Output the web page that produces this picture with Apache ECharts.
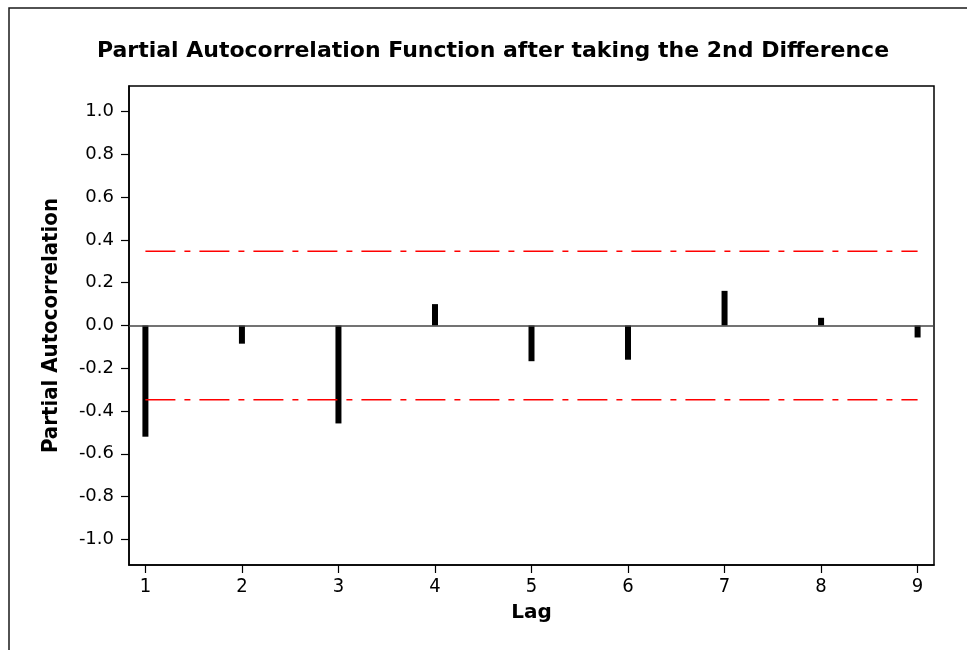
<!DOCTYPE html>
<html>
<head>
<meta charset="utf-8">
<script src="https://cdn.jsdelivr.net/npm/echarts@6/dist/echarts.min.js"></script>
<style>
html,body{margin:0;padding:0;background:#fff;}
#chart{width:967px;height:650px;}
</style>
</head>
<body>
<div id="chart"></div>
<script>
const lags = [1, 2, 3, 4, 5, 6, 7, 8, 9];
const pacf = [-0.52, -0.085, -0.458, 0.10, -0.167, -0.16, 0.162, 0.036, -0.056];
const yTicks = [-1.0, -0.8, -0.6, -0.4, -0.2, 0.0, 0.2, 0.4, 0.6, 0.8, 1.0];
const upperLimit = 0.347;
const lowerLimit = -0.347;

const chart = echarts.init(document.getElementById('chart'));
const condensed = '"DejaVu Sans Condensed", "DejaVu Sans", sans-serif';
const option = {
  animation: false,
  backgroundColor: '#fff',
  title: {
    text: 'Partial Autocorrelation Function after taking the 2nd Difference',
    left: 493, top: 40, padding: 0, textAlign: 'center',
    textStyle: { fontFamily: '"DejaVu Sans", sans-serif', fontWeight: 'bold', fontSize: 22, color: '#000' }
  },
  graphic: [{
    type: 'rect', shape: { x: 9, y: 8, width: 1200, height: 1000 },
    style: { fill: 'none', stroke: '#1a1a1a', lineWidth: 1.5 }, silent: true
  }],
  grid: { left: 129, top: 86, right: 33, bottom: 85, show: true, borderColor: '#000', borderWidth: 1.5, backgroundColor: 'transparent' },
  xAxis: {
    type: 'value', min: 0.83, max: 9.17,
    name: 'Lag', nameLocation: 'middle', nameGap: 38,
    nameTextStyle: { fontFamily: '"DejaVu Sans", sans-serif', fontWeight: 'bold', fontSize: 20, color: '#000' },
    axisLine: { show: true, onZero: false, lineStyle: { color: '#000', width: 1.5 } },
    axisTick: { show: true, length: 8, customValues: lags, lineStyle: { color: '#000', width: 1.2 } },
    axisLabel: { customValues: lags, margin: 12, fontFamily: condensed, fontSize: 20, color: '#000' },
    splitLine: { show: false }
  },
  yAxis: {
    type: 'value', min: -1.12, max: 1.12,
    name: 'Partial Autocorrelation', nameLocation: 'middle', nameGap: 67, nameRotate: 90,
    nameTextStyle: { fontFamily: condensed, fontWeight: 'bold', fontSize: 22, color: '#000' },
    axisLine: { show: true, onZero: false, lineStyle: { color: '#000', width: 1.5 } },
    axisTick: { show: true, length: 8, customValues: yTicks, lineStyle: { color: '#000', width: 1.2 } },
    axisLabel: { customValues: yTicks, margin: 15, fontFamily: '"DejaVu Sans", sans-serif', fontSize: 18, color: '#000',
      formatter: v => v.toFixed(1) },
    splitLine: { show: false }
  },
  series: [
    {
      type: 'bar', barWidth: 6,
      data: lags.map((l, i) => [l, pacf[i]]),
      itemStyle: { color: '#000' },
      markLine: {
        silent: true, symbol: 'none', label: { show: false },
        lineStyle: { color: '#444', width: 1.5, type: 'solid' },
        data: [{ yAxis: 0 }]
      },
      z: 3
    },
    {
      type: 'line', symbol: 'none',
      data: [[lags[0], upperLimit], [lags[lags.length - 1], upperLimit]],
      lineStyle: { color: '#ff0000', width: 1.5, type: [30, 9, 6, 9] }
    },
    {
      type: 'line', symbol: 'none',
      data: [[lags[0], lowerLimit], [lags[lags.length - 1], lowerLimit]],
      lineStyle: { color: '#ff0000', width: 1.5, type: [30, 9, 6, 9] }
    }
  ]
};
chart.setOption(option);
</script>
</body>
</html>
